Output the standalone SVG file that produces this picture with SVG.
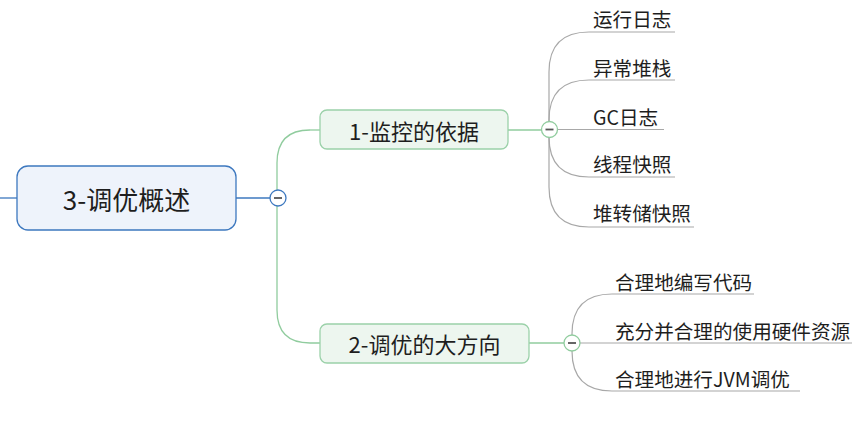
<svg xmlns="http://www.w3.org/2000/svg" width="866" height="424" viewBox="0 0 866 424">
<style>
.t{font-family:"Noto Sans CJK SC","Microsoft YaHei",sans-serif;fill:#1e1e1e;dominant-baseline:central}
.c{font-size:19.6px}
.ln{fill:none;stroke:#a8a8a8;stroke-width:1.2}
.gl{fill:none;stroke:#90cc9e;stroke-width:1.3}
.bl{fill:none;stroke:#3d78bf;stroke-width:1.3}
.tg{fill:#ffffff;stroke-width:1.3}
.mn{stroke:#555;stroke-width:1.8}
</style>
<rect width="866" height="424" fill="#ffffff"/>
<g id="connectors">
  <path class="bl" d="M0 198 H17"/>
  <path class="bl" d="M236 198 H270"/>
  <path class="gl" d="M310 130 Q277 130 277 163 V310 Q277 343 310 343 H320"/>
  <path class="gl" d="M310 130 H320"/>
  <path class="gl" d="M508 130 H542"/>
  <path class="gl" d="M529 343 H564"/>
  <path class="ln" d="M549 130 V72 Q549 32 589 32 H675"/>
  <path class="ln" d="M549 130 V120 Q549 80 589 80 H675"/>
  <path class="ln" d="M557 129.5 H664"/>
  <path class="ln" d="M549 130 V137 Q549 177 589 177 H675"/>
  <path class="ln" d="M549 130 V187 Q549 227 589 227 H694"/>
  <path class="ln" d="M572 343 V334 Q572 294 612 294 H754"/>
  <path class="ln" d="M580 343 H852"/>
  <path class="ln" d="M572 343 V351 Q572 391 612 391 H800"/>
</g>
<g id="root">
  <rect x="17" y="166" width="219" height="64" rx="11" fill="#eef3fb" stroke="#3d78bf" stroke-width="1.3"/>
  <text class="t" x="126.5" y="198" font-size="26" text-anchor="middle" fill="#1b2a36">3-调优概述</text>
  <circle class="tg" cx="278" cy="198" r="8" stroke="#3d78bf"/>
  <line class="mn" x1="274" y1="198" x2="282" y2="198"/>
</g>
<g id="n1">
  <rect x="320" y="110" width="188" height="39" rx="7" fill="#edf6ef" stroke="#9bd1a9" stroke-width="1.3"/>
  <text class="t" x="414" y="130" font-size="22" text-anchor="middle">1-监控的依据</text>
  <circle class="tg" cx="549.5" cy="129.5" r="8" stroke="#90cc9e"/>
  <line class="mn" x1="545.5" y1="129.5" x2="553.5" y2="129.5"/>
</g>
<g id="n2">
  <rect x="320" y="324" width="209" height="39" rx="7" fill="#edf6ef" stroke="#9bd1a9" stroke-width="1.3"/>
  <text class="t" x="424.5" y="343" font-size="22" text-anchor="middle">2-调优的大方向</text>
  <circle class="tg" cx="572" cy="343" r="8" stroke="#90cc9e"/>
  <line class="mn" x1="568" y1="343" x2="576" y2="343"/>
</g>
<g id="c1"><text class="t c" x="593" y="18.5">运行日志</text></g>
<g id="c2"><text class="t c" x="593" y="67">异常堆栈</text></g>
<g id="c3"><text class="t c" x="593" y="116">GC日志</text></g>
<g id="c4"><text class="t c" x="593" y="163.5">线程快照</text></g>
<g id="c5"><text class="t c" x="593" y="212.5">堆转储快照</text></g>
<g id="d1"><text class="t c" x="615" y="281">合理地编写代码</text></g>
<g id="d2"><text class="t c" x="615" y="330">充分并合理的使用硬件资源</text></g>
<g id="d3"><text class="t c" x="615" y="378">合理地进行JVM调优</text></g>
</svg>
